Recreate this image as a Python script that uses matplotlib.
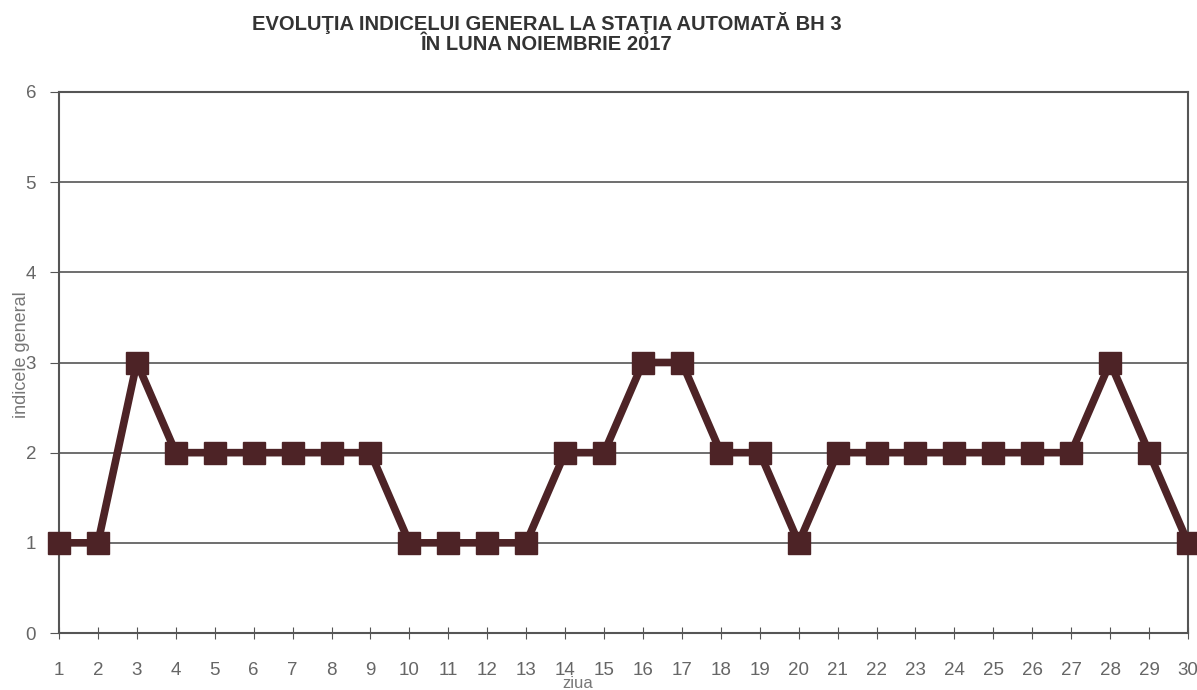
import matplotlib
matplotlib.use("Agg")
import matplotlib.pyplot as plt

days = list(range(1, 31))
index_values = [1, 1, 3, 2, 2, 2, 2, 2, 2, 1, 1, 1, 1, 2, 2,
                3, 3, 2, 2, 1, 2, 2, 2, 2, 2, 2, 2, 3, 2, 1]
y_ticks = [0, 1, 2, 3, 4, 5, 6]

plt.rcParams["font.family"] = ["Liberation Sans", "DejaVu Sans"]

fig = plt.figure(figsize=(11.97, 6.9), dpi=100)
ax = fig.add_axes([59 / 1197, 1 - 633 / 690, (1188 - 59) / 1197, (633 - 92) / 690])

line_col = "#4d2326"
ax.plot(days, index_values, color=line_col, lw=5.5, marker="s", ms=16,
        markerfacecolor=line_col, markeredgecolor=line_col, clip_on=False, zorder=3)

ax.set_xlim(1, 30)
ax.set_ylim(0, 6)
ax.set_xticks(days)
ax.set_yticks(y_ticks)
ax.grid(axis="y", color="#555555", lw=1.2)
for s in ax.spines.values():
    s.set_color("#555555")
    s.set_linewidth(1.5)
ax.tick_params(axis="x", direction="inout", length=8, colors="#555555",
               labelcolor="#666666", labelsize=13.5, pad=17)
ax.tick_params(axis="y", direction="out", length=6.5, colors="#555555",
               labelcolor="#666666", labelsize=13.5, pad=10)

# two-line title, centred left of the axes centre as in the scan
fig.text(0.457, 0.982, "EVOLUŢIA INDICELUI GENERAL LA STAŢIA AUTOMATĂ BH 3\nÎN LUNA NOIEMBRIE 2017",
         ha="center", va="top", fontsize=14.5, fontweight="bold", color="#333333",
         linespacing=1.05)
fig.text(22 / 1197, 1 - 355 / 690, "indicele general", rotation=90, ha="center", va="center",
         fontsize=13, color="#777777")
fig.text(578 / 1197, 1 - 683 / 690, "ziua", ha="center", va="center",
         fontsize=12, color="#777777")

fig.savefig("out.png", dpi=100)
